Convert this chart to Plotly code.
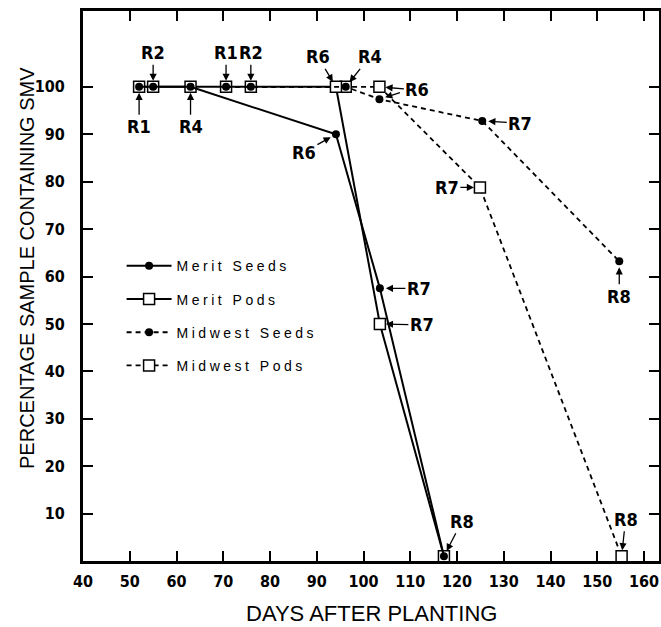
import plotly.graph_objects as go

# ---- data ----
merit_seed_days = [52, 55, 63, 94.1, 103.5, 117.2]
merit_seed_pct = [100, 100, 100, 90, 57.5, 1]
merit_pod_days = [52, 55, 63, 94.1, 103.5, 117.2]
merit_pod_pct = [100, 100, 100, 100, 50, 1]
midwest_seed_days = [70.6, 75.9, 96.2, 103.4, 125.4, 154.7]
midwest_seed_pct = [100, 100, 100, 97.4, 92.8, 63.2]
midwest_pod_days = [70.6, 75.9, 96.2, 103.4, 124.9, 155.2]
midwest_pod_pct = [100, 100, 100, 100, 78.8, 1]

x_ticks = [40, 50, 60, 70, 80, 90, 100, 110, 120, 130, 140, 150, 160]
y_ticks = [10, 20, 30, 40, 50, 60, 70, 80, 90, 100]

# stage labels: (text, day, pct, ax, ay)
stage_labels = [
    ("R1", 52, 100, 0, 40),
    ("R2", 55, 100, 0, -34),
    ("R4", 63, 100, 0, 40),
    ("R1", 70.6, 100, 0, -34),
    ("R2", 75.9, 100, 0, -34),
    ("R6", 94.1, 100, -18, -30),
    ("R4", 96.2, 100, 24, -30),
    ("R6", 103.4, 100, 38, 3),
    ("R6", 94.1, 90, -32, 18),
    ("R7", 103.5, 57.5, 39, 0),
    ("R7", 103.5, 50, 42, 1),
    ("R7", 125.4, 92.8, 38, 2),
    ("R7", 124.9, 78.8, -33, 0),
    ("R8", 117.2, 1, 18, -35),
    ("R8", 154.7, 63.2, 0, 35),
    ("R8", 155.2, 1, 4, -37),
]

BOLD_NARROW = "Liberation Sans Narrow, DejaVu Sans Condensed, Arial Narrow, sans-serif"
SANS = "Liberation Sans, Arial, Helvetica, sans-serif"


def spaced(s, px):
    return '<span style="letter-spacing:%spx">%s</span>' % (px, s)


fig = go.Figure()

# pods first (white squares), seeds drawn on top
fig.add_trace(go.Scatter(
    x=midwest_pod_days, y=midwest_pod_pct, name=spaced("Midwest Pods", 3.5),
    mode="lines+markers", legendgroup="d", legendrank=4,
    line=dict(color="black", width=1.8, dash="5px,4px"),
    marker=dict(symbol="square", size=11, color="white",
                line=dict(color="black", width=1.5)),
))
fig.add_trace(go.Scatter(
    x=merit_pod_days, y=merit_pod_pct, name=spaced("Merit Pods", 3.5),
    mode="lines+markers", legendgroup="b", legendrank=2,
    line=dict(color="black", width=2),
    marker=dict(symbol="square", size=11, color="white",
                line=dict(color="black", width=1.5)),
))
fig.add_trace(go.Scatter(
    x=midwest_seed_days, y=midwest_seed_pct, name=spaced("Midwest Seeds", 3.5),
    mode="lines+markers", legendgroup="c", legendrank=3,
    line=dict(color="black", width=1.8, dash="5px,4px"),
    marker=dict(symbol="circle", size=8, color="black"),
))
fig.add_trace(go.Scatter(
    x=merit_seed_days, y=merit_seed_pct, name=spaced("Merit Seeds", 3.5),
    mode="lines+markers", legendgroup="a", legendrank=1,
    line=dict(color="black", width=2),
    marker=dict(symbol="circle", size=8, color="black"),
))

annotations = []
for text, d, p, ax, ay in stage_labels:
    annotations.append(dict(
        x=d, y=p, xref="x", yref="y", text=text, showarrow=True,
        ax=ax, ay=ay, arrowhead=2, arrowsize=1.1, arrowwidth=1.3,
        arrowcolor="black", standoff=6, startstandoff=0,
        font=dict(family=BOLD_NARROW, size=18, color="black", weight=700),
    ))
# second arrow from the right-hand R6 label to the Midwest seed point
annotations.append(dict(
    x=midwest_seed_days[3], y=midwest_seed_pct[3], xref="x", yref="y",
    text="", showarrow=True, ax=22, ay=-7, arrowhead=2, arrowsize=1.1,
    arrowwidth=1.3, arrowcolor="black", standoff=6,
))
# axis titles
annotations.append(dict(
    x=0.5, y=-0.096, xref="paper", yref="paper", text="DAYS AFTER PLANTING",
    showarrow=False, xanchor="center", yanchor="middle",
    font=dict(family=SANS, size=22, color="black"),
))
annotations.append(dict(
    x=-0.097, y=0.533, xref="paper", yref="paper",
    text="PERCENTAGE SAMPLE CONTAINING SMV", textangle=-90,
    showarrow=False, xanchor="center", yanchor="middle",
    font=dict(family=SANS, size=20, color="black"),
))

axis_common = dict(
    showline=True, linewidth=3, linecolor="black", mirror="ticks",
    ticks="inside", ticklen=10, tickwidth=2, tickcolor="black",
    showgrid=False, zeroline=False,
    tickfont=dict(family=BOLD_NARROW, size=16, color="black", weight=700),
)

fig.update_xaxes(range=[40, 163.2], tickmode="array", tickvals=x_ticks,
                 ticklabelstandoff=4, **axis_common)
fig.update_yaxes(range=[0, 116], tickmode="array", tickvals=y_ticks,
                 ticklabelstandoff=12, **axis_common)

fig.update_layout(
    width=661, height=627,
    margin=dict(l=83, r=2, t=11, b=66, autoexpand=False),
    plot_bgcolor="white", paper_bgcolor="white",
    showlegend=True,
    legend=dict(
        x=0.067, y=0.565, xanchor="left", yanchor="top",
        bgcolor="rgba(0,0,0,0)", borderwidth=0,
        font=dict(family=SANS, size=14, color="black"),
        itemwidth=45, tracegroupgap=12, traceorder="grouped",
    ),
    annotations=annotations,
)

# remove the default page margin so the figure fills the window exactly
fig.write_html(
    "out.html",
    config={"displayModeBar": False},
    post_script="document.body.style.margin='0px';"
                "document.documentElement.style.overflow='hidden';",
)
